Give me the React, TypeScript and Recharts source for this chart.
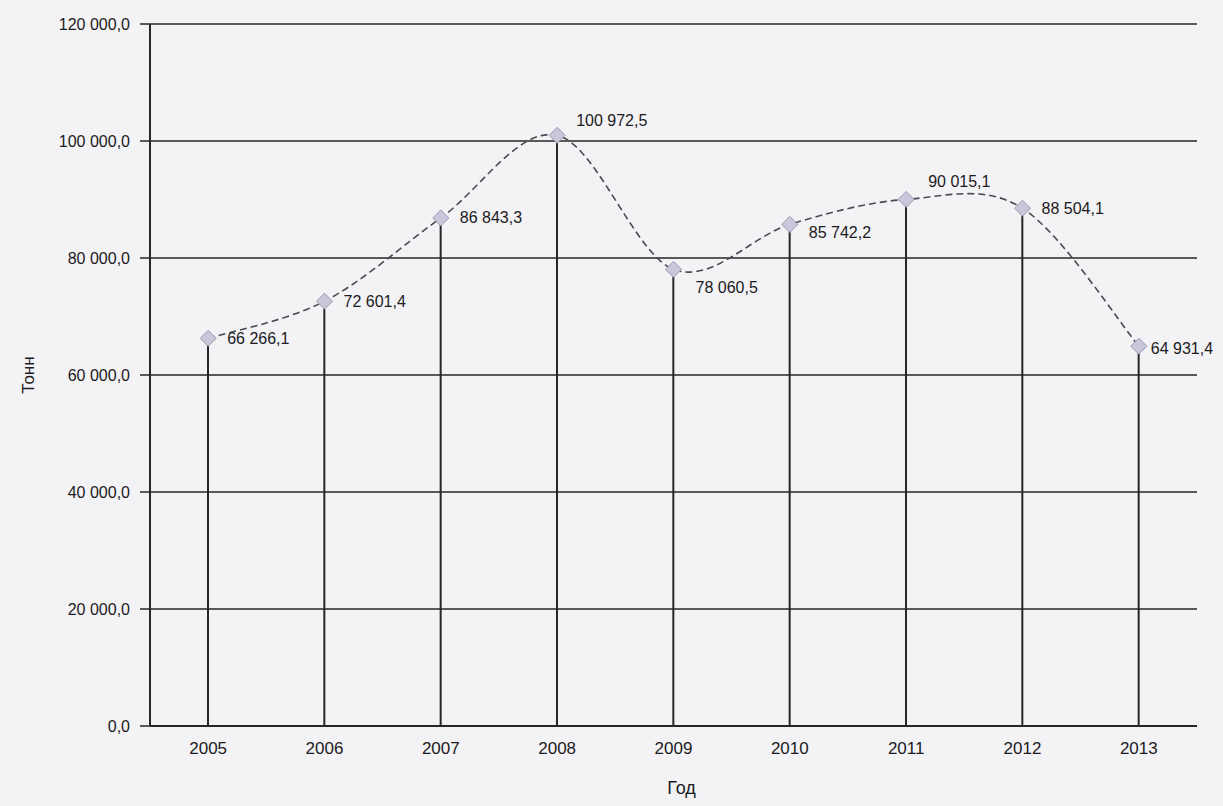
import React from "react";
import { ComposedChart, Line, Bar, XAxis, YAxis, CartesianGrid, LabelList, Label } from "recharts";

const years = ["2005", "2006", "2007", "2008", "2009", "2010", "2011", "2012", "2013"];
const tonnes = [66266.1, 72601.4, 86843.3, 100972.5, 78060.5, 85742.2, 90015.1, 88504.1, 64931.4];
const yTicks = [0, 20000, 40000, 60000, 80000, 100000, 120000];

const data = years.map((year, i) => ({ year, value: tonnes[i] }));

const FONT = '"Liberation Sans", Arial, sans-serif';
const INK = "#1c1b22";

// 66 266,1
const fmt = (v: number) => {
    const [int, dec] = v.toFixed(1).split(".");
    return int.replace(/\B(?=(\d{3})+(?!\d))/g, " ") + "," + dec;
};

// smoothed line like the spreadsheet one (catmull-rom through the points)
const smooth = (ctx: any) => {
    let pts: number[][] = [];
    return {
        areaStart() {},
        areaEnd() {},
        lineStart() { pts = []; },
        point(x: number, y: number) { pts.push([+x, +y]); },
        lineEnd() {
            if (!pts.length) return;
            ctx.moveTo(pts[0][0], pts[0][1]);
            for (let i = 0; i < pts.length - 1; i++) {
                const p0 = pts[i - 1] || pts[i];
                const p1 = pts[i];
                const p2 = pts[i + 1];
                const p3 = pts[i + 2] || p2;
                ctx.bezierCurveTo(
                    p1[0] + (p2[0] - p0[0]) / 6, p1[1] + (p2[1] - p0[1]) / 6,
                    p2[0] - (p3[0] - p1[0]) / 6, p2[1] - (p3[1] - p1[1]) / 6,
                    p2[0], p2[1]
                );
            }
        },
    };
};

const Diamond = (props: any) => {
    const { cx, cy, index } = props;
    const r = 8;
    return (
        <path
            key={`dot-${index}`}
            d={`M${cx},${cy - r}L${cx + r},${cy}L${cx},${cy + r}L${cx - r},${cy}Z`}
            fill="#cbc6da"
            stroke="#9d97b3"
            strokeWidth={1}
        />
    );
};

// where each value label sits relative to its marker
const labelShift: Record<string, [number, number]> = {
    "2008": [19, -15],
    "2009": [22, 18],
    "2010": [19, 8],
    "2011": [22, -18],
    "2013": [12, 2],
};

const ValueLabel = (props: any) => {
    const { x, y, value, index } = props;
    const [dx, dy] = labelShift[years[index]] || [19, 0];
    return (
        <text
            x={x + dx}
            y={y + dy}
            dominantBaseline="central"
            textAnchor="start"
            fontFamily={FONT}
            fontSize={16}
            fill={INK}
        >
            {fmt(value)}
        </text>
    );
};

const App: React.FC = () => {
    return (
        <div style={{ position: "absolute", left: 0, top: 0, width: 1223, height: 806, background: "#f3f2f5", overflow: "hidden" }}>
            <ComposedChart
                width={1223}
                height={806}
                data={data}
                margin={{ top: 24, right: 26, left: 0, bottom: 20 }}
            >
                <CartesianGrid yAxisId="left" vertical={false} stroke="#262626" strokeWidth={1.6} />
                <XAxis
                    dataKey="year"
                    height={60}
                    tickSize={0}
                    tickMargin={16}
                    axisLine={{ stroke: "#262626", strokeWidth: 2 }}
                    tick={{ fontFamily: FONT, fontSize: 17, fill: INK }}
                >
                    <Label
                        content={(p: any) => (
                            <text
                                x={p.viewBox.x + p.viewBox.width / 2 + 8}
                                y={788}
                                textAnchor="middle"
                                dominantBaseline="central"
                                fontFamily={FONT}
                                fontSize={18}
                                fill={INK}
                            >
                                Год
                            </text>
                        )}
                    />
                </XAxis>
                <YAxis
                    yAxisId="left"
                    width={150}
                    domain={[0, 120000]}
                    ticks={yTicks}
                    tickFormatter={fmt}
                    tickSize={10}
                    tickMargin={10}
                    interval={0}
                    axisLine={{ stroke: "#262626", strokeWidth: 2 }}
                    tickLine={{ stroke: "#262626", strokeWidth: 1.5 }}
                    tick={{ fontFamily: FONT, fontSize: 16, fill: INK }}
                >
                    <Label
                        content={(p: any) => {
                            const cy = p.viewBox.y + p.viewBox.height / 2;
                            return (
                                <text
                                    x={28}
                                    y={cy}
                                    transform={`rotate(-90, 28, ${cy})`}
                                    textAnchor="middle"
                                    dominantBaseline="central"
                                    fontFamily={FONT}
                                    fontSize={17}
                                    fill={INK}
                                >
                                    Тонн
                                </text>
                            );
                        }}
                    />
                </YAxis>
                <YAxis
                    yAxisId="right"
                    orientation="right"
                    width={0}
                    domain={[0, 120000]}
                    tick={false}
                    tickLine={false}
                    axisLine={{ stroke: "#262626", strokeWidth: 1.6 }}
                />
                {/* drop lines from each point down to the axis */}
                <Bar
                    yAxisId="left"
                    dataKey="value"
                    barSize={2}
                    fill="#262626"
                    isAnimationActive={false}
                />
                <Line
                    yAxisId="left"
                    dataKey="value"
                    type={smooth as any}
                    stroke="#4a4a50"
                    strokeWidth={1.6}
                    strokeDasharray="7 4"
                    dot={Diamond}
                    activeDot={false}
                    isAnimationActive={false}
                >
                    <LabelList dataKey="value" content={ValueLabel} />
                </Line>
            </ComposedChart>
        </div>
    );
};

export default App;
